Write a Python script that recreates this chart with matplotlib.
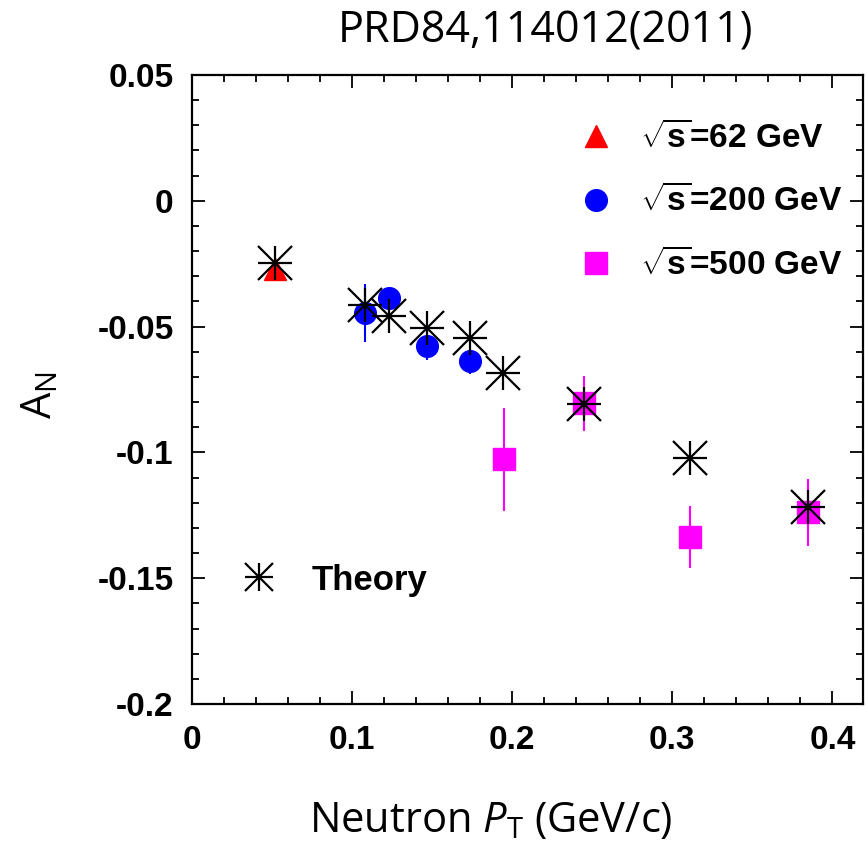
import matplotlib
matplotlib.use("Agg")
import matplotlib.pyplot as plt
from matplotlib.lines import Line2D
from matplotlib.legend_handler import HandlerTuple
from matplotlib.ticker import MultipleLocator, FuncFormatter

# ---- data ----
x62 = [0.052]
y62 = [-0.027]
e62 = [0.0]

x200 = [0.108, 0.123, 0.147, 0.174]
y200 = [-0.0445, -0.0386, -0.0576, -0.0638]
e200 = [0.0115, 0.003, 0.0057, 0.005]

x500 = [0.195, 0.245, 0.311, 0.385]
y500 = [-0.1027, -0.0805, -0.1338, -0.1238]
e500 = [0.0204, 0.011, 0.0123, 0.0133]

xth = [0.052, 0.108, 0.123, 0.147, 0.174, 0.1945, 0.245, 0.311, 0.385]
yth = [-0.0248, -0.0414, -0.0457, -0.0504, -0.0544, -0.0686, -0.0808, -0.1022, -0.1216]

labels = [r"$\sqrt{\mathbf{s}}$=62 GeV", r"$\sqrt{\mathbf{s}}$=200 GeV", r"$\sqrt{\mathbf{s}}$=500 GeV"]
theory_label = "Theory"
title = "PRD84,114012(2011)"

plt.rcParams["mathtext.fontset"] = "custom"
plt.rcParams["mathtext.rm"] = "Open Sans"
plt.rcParams["mathtext.it"] = "Open Sans:italic"
plt.rcParams["mathtext.bf"] = "Liberation Sans:bold"

W, H = 867, 847
fig = plt.figure(figsize=(W / 100, H / 100), dpi=100)
ax = fig.add_axes([191.7 / W, 1 - 704 / H, 671 / W, 629 / H])

ax.set_xlim(0, 0.4189)
ax.set_ylim(-0.2, 0.05)

ms = 15.6
ax.errorbar(x62, y62, yerr=e62, fmt="^", color="red", ms=ms, elinewidth=1.5, capsize=0, zorder=3)
ax.errorbar(x200, y200, yerr=e200, fmt="o", color="blue", ms=ms, elinewidth=1.5, capsize=0, zorder=3)
ax.errorbar(x500, y500, yerr=e500, fmt="s", color="magenta", ms=ms, elinewidth=1.5, capsize=0, zorder=3)
ax.plot(xth, yth, ls="none", marker="+", ms=25, mew=1.6, color="black", zorder=4)
ax.plot(xth, yth, ls="none", marker="x", ms=25, mew=1.6, color="black", zorder=4)

# ticks
ax.xaxis.set_major_locator(MultipleLocator(0.1))
ax.xaxis.set_minor_locator(MultipleLocator(0.02))
ax.yaxis.set_major_locator(MultipleLocator(0.05))
ax.yaxis.set_minor_locator(MultipleLocator(0.01))
fmt = FuncFormatter(lambda v, p: "0" if abs(v) < 1e-9 else "{:g}".format(round(v, 4)))
ax.xaxis.set_major_formatter(fmt)
ax.yaxis.set_major_formatter(fmt)
ax.tick_params(which="both", direction="in", top=True, right=True, width=1.3, color="black")
ax.tick_params(which="major", length=9.5)
ax.tick_params(which="minor", length=5)
ax.tick_params(axis="x", which="major", pad=15)
ax.tick_params(axis="y", which="major", pad=13)
for lab in ax.get_xticklabels() + ax.get_yticklabels():
    lab.set_fontfamily("Liberation Sans")
    lab.set_fontweight("bold")
    lab.set_fontsize(24)
for s in ax.spines.values():
    s.set_linewidth(1.6)

# legends
h1 = [Line2D([], [], ls="none", marker="^", color="red", ms=ms),
      Line2D([], [], ls="none", marker="o", color="blue", ms=ms),
      Line2D([], [], ls="none", marker="s", color="magenta", ms=ms)]
leg1 = ax.legend(h1, labels, loc="center left", bbox_to_anchor=(0.577, 0.7986),
                 frameon=False, borderpad=0, borderaxespad=0, handlelength=1.0,
                 handletextpad=0.84, labelspacing=0.9,
                 prop={"family": "Liberation Sans", "weight": "bold", "size": 24})
ax.add_artist(leg1)
th = (Line2D([], [], ls="none", marker="+", ms=20, mew=1.6, color="black"),
      Line2D([], [], ls="none", marker="x", ms=20, mew=1.6, color="black"))
ax.legend([th], [theory_label], handler_map={tuple: HandlerTuple(ndivide=1, pad=0)},
          loc="center left", bbox_to_anchor=(0.0744, 0.197), frameon=False,
          borderpad=0, borderaxespad=0, handlelength=1.0, handletextpad=1.02,
          prop={"family": "Liberation Sans", "weight": "bold", "size": 25})

# texts
fig.text(545 / W, 1 - 43 / H, title, ha="center", va="baseline", fontsize=31, family="Open Sans")
fig.text(491 / W, 1 - 832 / H, r"Neutron $\mathit{P}_{\mathrm{T}}$ (GeV/c)", ha="center",
         va="baseline", fontsize=30, family="Open Sans")
fig.text(40 / W, 1 - 395 / H, r"A$_{\mathrm{N}}$", ha="center", va="center", rotation=90,
         fontsize=30, family="Open Sans")

fig.savefig("out.png", dpi=100)
